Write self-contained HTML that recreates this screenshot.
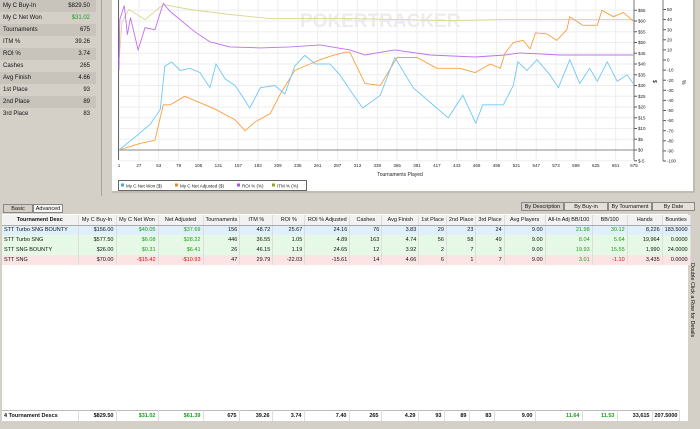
<!DOCTYPE html>
<html><head><meta charset="utf-8"><style>
*{margin:0;padding:0;box-sizing:border-box}
body{width:700px;height:429px;overflow:hidden;background:#d4d0c8;font-family:"Liberation Sans",sans-serif;font-size:6px;color:#111;position:relative}
.lp{position:absolute;left:0;top:0;width:102px;height:196px;border-right:1px solid #a8a49c}
.lr{height:12px;line-height:12px;display:flex;justify-content:space-between;padding:0 6px 0 3px;margin:0 5px 0 0;font-size:6px}
.lr:nth-child(odd){background:#c8c4bc}
.cp{position:absolute;left:112px;top:0;width:583px;height:193px;background:#fff;border-right:2px solid #c0bcb4;border-bottom:2px solid #c0bcb4}
.btn{position:absolute;top:204px;height:9px;font-size:5.5px;line-height:9px;text-align:center;border:1px solid #888;background:#e4e0d8}
table{position:absolute;left:2px;top:215px;border-collapse:collapse;table-layout:fixed;font-size:5.5px}
td,th{height:10px;padding:0 2px;border-right:1px solid #ddd;white-space:nowrap;overflow:hidden;text-align:right;font-weight:normal}
th{background:#f2f2f2;text-align:center;border-bottom:1px solid #aaa}
td:first-child{text-align:left}
.g{color:#1a9e1a}.r{color:#d01010}
</style></head><body>
<div class="lp">
<div class="lr"><span>My C Buy-In</span><span>$829.50</span></div>
<div class="lr"><span>My C Net Won</span><span class="g">$31.02</span></div>
<div class="lr"><span>Tournaments</span><span>675</span></div>
<div class="lr"><span>ITM %</span><span>39.26</span></div>
<div class="lr"><span>ROI %</span><span>3.74</span></div>
<div class="lr"><span>Cashes</span><span>265</span></div>
<div class="lr"><span>Avg Finish</span><span>4.66</span></div>
<div class="lr"><span>1st Place</span><span>93</span></div>
<div class="lr"><span>2nd Place</span><span>89</span></div>
<div class="lr"><span>3rd Place</span><span>83</span></div>
</div>
<div class="cp"></div>
<svg id="ch" width="700" height="200" style="position:absolute;left:0;top:0"></svg>

<div class="btn" style="left:3px;width:30px;background:#d4d0c8">Basic</div>
<div class="btn" style="left:33px;width:30px;background:#f4f4f4">Advanced</div>
<div class="btn" style="left:521px;top:202px;width:43px;background:#d4d0c8">By Description</div>
<div class="btn" style="left:564px;top:202px;width:44px">By Buy-in</div>
<div class="btn" style="left:608px;top:202px;width:44px">By Tournament</div>
<div class="btn" style="left:652px;top:202px;width:43px">By Date</div>
<div style="position:absolute;left:2px;top:214px;width:686px;height:207px;background:#fff"></div>
<div style="position:absolute;left:686px;top:250px;width:12px;height:100px;writing-mode:vertical-rl;font-size:5.5px;line-height:12px;text-align:center">Double Click a Row for Details</div>
<table>
<colgroup><col style="width:76px"><col style="width:38px"><col style="width:42px"><col style="width:45px"><col style="width:36px"><col style="width:33px"><col style="width:32px"><col style="width:45px"><col style="width:32px"><col style="width:37px"><col style="width:26px"><col style="width:25px"><col style="width:25px"><col style="width:41px"><col style="width:47px"><col style="width:35px"><col style="width:35px"><col style="width:26px"></colgroup>
<tr><th style="font-weight:bold">Tournament Desc</th><th>My C Buy-In</th><th>My C Net Won</th><th>Net Adjusted</th><th>Tournaments</th><th>ITM %</th><th>ROI %</th><th>ROI % Adjusted</th><th>Cashes</th><th>Avg Finish</th><th>1st Place</th><th>2nd Place</th><th>3rd Place</th><th>Avg Players</th><th>All-In Adj BB/100</th><th>BB/100</th><th>Hands</th><th>Bounties</th></tr>
<tr style="background:#dff0fb"><td>STT Turbo SNG BOUNTY</td><td>$156.00</td><td class="g">$40.05</td><td class="g">$37.69</td><td>156</td><td>48.72</td><td>25.67</td><td>24.16</td><td>76</td><td>3.83</td><td>29</td><td>23</td><td>24</td><td>9.00</td><td class="g">21.98</td><td class="g">30.12</td><td>8,226</td><td>183.5000</td></tr>
<tr style="background:#e6f8e6"><td>STT Turbo SNG</td><td>$577.50</td><td class="g">$6.08</td><td class="g">$28.22</td><td>446</td><td>36.55</td><td>1.05</td><td>4.89</td><td>163</td><td>4.74</td><td>56</td><td>58</td><td>49</td><td>9.00</td><td class="g">8.04</td><td class="g">5.64</td><td>19,964</td><td>0.0000</td></tr>
<tr style="background:#e6f8e6"><td>STT SNG BOUNTY</td><td>$26.00</td><td class="g">$0.31</td><td class="g">$6.41</td><td>26</td><td>46.15</td><td>1.19</td><td>24.65</td><td>12</td><td>3.92</td><td>2</td><td>7</td><td>3</td><td>9.00</td><td class="g">19.93</td><td class="g">15.55</td><td>1,990</td><td>24.0000</td></tr>
<tr style="background:#fbe4e4"><td>STT SNG</td><td>$70.00</td><td class="r">-$15.42</td><td class="r">-$10.93</td><td>47</td><td>29.79</td><td>-22.03</td><td>-15.61</td><td>14</td><td>4.66</td><td>6</td><td>1</td><td>7</td><td>9.00</td><td class="g">3.01</td><td class="r">-1.10</td><td>3,435</td><td>0.0000</td></tr>
</table>
<table style="top:410px;font-weight:bold">
<colgroup><col style="width:76px"><col style="width:38px"><col style="width:42px"><col style="width:45px"><col style="width:36px"><col style="width:33px"><col style="width:32px"><col style="width:45px"><col style="width:32px"><col style="width:37px"><col style="width:26px"><col style="width:25px"><col style="width:25px"><col style="width:41px"><col style="width:47px"><col style="width:35px"><col style="width:35px"><col style="width:26px"></colgroup>
<tr style="border-top:1px solid #bbb"><td style="font-weight:bold">4 Tournament Descs</td><td style="font-weight:bold">$829.50</td><td class="g" style="font-weight:bold">$31.02</td><td class="g" style="font-weight:bold">$61.39</td><td style="font-weight:bold">675</td><td style="font-weight:bold">39.26</td><td style="font-weight:bold">3.74</td><td style="font-weight:bold">7.40</td><td style="font-weight:bold">265</td><td style="font-weight:bold">4.29</td><td style="font-weight:bold">93</td><td style="font-weight:bold">89</td><td style="font-weight:bold">83</td><td style="font-weight:bold">9.00</td><td class="g" style="font-weight:bold">11.64</td><td class="g" style="font-weight:bold">11.53</td><td style="font-weight:bold">33,615</td><td style="font-weight:bold">207.5000</td></tr>
</table>
<script>
const xTicks=[1,27,53,79,105,131,157,183,209,235,261,287,313,339,365,391,417,443,469,495,521,547,573,599,625,651,675];
const dollarTicks=[-5,0,5,10,15,20,25,30,35,40,45,50,55,60,65];
const pctTicks=[-100,-90,-80,-70,-60,-50,-40,-30,-20,-10,0,10,20,30,40,50];
const netWonT=[1,22,42,55,61,70,81,94,107,120,128,140,153,166,172,186,205,218,231,244,258,277,290,303,320,343,362,386,417,432,451,468,477,504,517,523,535,548,565,576,591,604,617,627,640,653,666,674];
const netWonV=[0,6,12,19,39,41,37,38,36,29,40,33,30,23,19.5,29,30,26,39,44,40,40,35,28,19.5,25.5,43,29,19.5,15,25.5,12.5,21,21,30,41,37,42,35,29,42,31,38,32,41,32,35,31];
const netAdjT=[1,28,48,59,68,87,107,127,153,166,179,199,212,231,251,264,281,297,303,323,343,365,391,417,447,467,487,500,506,517,530,539,546,561,574,587,591,608,627,633,648,661,674];
const netAdjV=[0,3,4.5,21,21,25,22,19,14,9,13,17,26,37,40,42,44,45.5,45.5,31,30,43,43,38,38,36,40,38,45,50,51,47,54.5,54,51,56,62,58,58,65,62,64,60];
const roiT=[1,2,8,12,16,26,35,48,59,68,81,100,120,146,186,225,264,303,323,362,408,467,506,526,578,631,674];
const roiV=[-10,40,54,25,42,10,32,30,56,48,40,28,18,13,12,13,15,10,5,10,5,3,5,7,5,5,5];
const itmT=[1,5,14,35,59,94,146,199,251,303,369,432,500,565,674];
const itmV=[0,38,50,40,55,50,45,41,41,41,40,39,40,40,40];

const svg=document.getElementById('ch');const NS='http://www.w3.org/2000/svg';
const X=t=>119+(t-1)/674*515, YL=v=>150-v*2.15, YR=v=>60-v*1.01;
function mk(tag,at){const e=document.createElementNS(NS,tag);for(const k in at)e.setAttribute(k,at[k]);svg.appendChild(e);return e;}
xTicks.forEach(t=>{const g=mk('line',{x1:X(t),x2:X(t),y1:0,y2:160,stroke:'#eee'});


const l=mk('text',{x:X(t),y:167,'font-size':4.5,'text-anchor':'middle',fill:'#222'});l.textContent=t;

});
dollarTicks.forEach(v=>{const g=mk('line',{x1:119,x2:634,y1:YL(v),y2:YL(v),stroke:'#eee'});


mk('line',{x1:634,x2:637,y1:YL(v),y2:YL(v),stroke:'#555'});
const l=mk('text',{x:638,y:YL(v)+1.6,'font-size':4.5,fill:'#222'});l.textContent=(v<0?'$-'+(-v):'$'+v);

});
pctTicks.forEach(v=>{mk('line',{x1:663,x2:666,y1:YR(v),y2:YR(v),stroke:'#555'});
const l=mk('text',{x:667,y:YR(v)+1.6,'font-size':4.5,fill:'#222'});l.textContent=v;

});
mk('line',{x1:118.5,x2:118.5,y1:0,y2:160,stroke:'#666'});
mk('line',{x1:119,x2:634,y1:YL(0),y2:YL(0),stroke:'#666','stroke-width':0.8});
mk('line',{x1:634,x2:634,y1:0,y2:160,stroke:'#777'});
mk('line',{x1:663,x2:663,y1:0,y2:161,stroke:'#777'});
const wm=mk('text',{x:300,y:27,'font-size':19,'font-weight':'bold',fill:'#ececec'});wm.textContent='POKERTRACKER';
const ax=mk('text',{x:400,y:176,'font-size':5,fill:'#222','text-anchor':'middle'});ax.textContent='Tournaments Played';


const a1=mk('text',{x:653,y:80,'font-size':5,transform:'rotate(90 653 80)'});a1.textContent='$';
const a2=mk('text',{x:682,y:80,'font-size':5,transform:'rotate(90 682 80)'});a2.textContent='%';
function line(T,V,Y,c,name){const d=T.map((t,i)=>(i?'L':'M')+X(t).toFixed(1)+' '+Y(V[i]).toFixed(1)).join('');
const p=mk('path',{d:d,fill:'none',stroke:c,'stroke-width':0.9});

}
line(itmT,itmV,YR,'#d8d890','itm-line');
line(roiT,roiV,YR,'#c070f0','roi-line');
line(netAdjT,netAdjV,YL,'#f8a040','net-adjusted-line');
line(netWonT,netWonV,YL,'#70c8f8','net-won-line');
mk('rect',{x:118.5,y:180.5,width:188,height:10,fill:'#fff',stroke:'#666'});
[['My C Net Won ($)','#40a8e8',121],['My C Net Adjusted ($)','#f08820',175],['ROI % (%)','#b050e0',237],['ITM % (%)','#a0a020',272]].forEach(e=>{
const r=mk('rect',{x:e[2],y:183.5,width:3,height:3,fill:e[1]});


const t=mk('text',{x:e[2]+5,y:187.3,'font-size':4.5,fill:'#222'});t.textContent=e[0];

});
</script>
</body></html>
